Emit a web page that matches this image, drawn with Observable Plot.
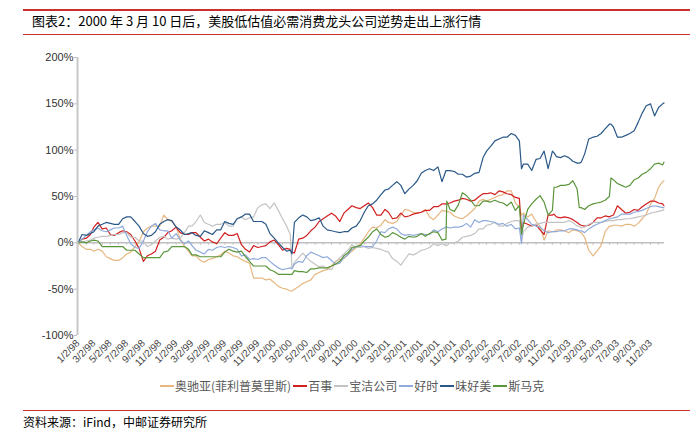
<!DOCTYPE html>
<html><head><meta charset="utf-8">
<script src="https://cdn.jsdelivr.net/npm/d3@7"></script>
<script src="https://cdn.jsdelivr.net/npm/@observablehq/plot@0.6"></script>
<style>
body{margin:0;width:697px;height:432px;position:relative;background:#fff;font-family:"Noto Sans CJK SC","Noto Sans",sans-serif;overflow:hidden}
.rule{position:absolute;left:23px;width:667px;background:#c9302c}
#title{position:absolute;left:32px;top:12px;font-size:13px;line-height:18px;color:#000;white-space:nowrap}
#chart{position:absolute;left:0;top:40px}
#legend{position:absolute;top:377px;left:160px;display:flex;align-items:center;font-size:12px;color:#595959;white-space:nowrap}
#legend .item{display:flex;align-items:center;margin-right:2px}
#legend svg{margin-right:1px}
#source{position:absolute;left:23px;top:414px;font-size:12px;line-height:16px;color:#000}
</style></head>
<body>
<div class="rule" style="top:9px;height:2px"></div>
<div id="title">图表2：2000 年 3 月 10 日后，美股低估值必需消费龙头公司逆势走出上涨行情</div>
<div class="rule" style="top:34px;height:1px"></div>
<div id="chart"></div>
<div id="legend"></div>
<div class="rule" style="top:410px;height:1px"></div>
<div id="source">资料来源：iFind，中邮证券研究所</div>
<script>
const dates = [
"1998-01-02","1998-01-17","1998-02-02","1998-02-17","1998-03-02","1998-03-17","1998-04-02","1998-04-17","1998-05-02","1998-05-17","1998-06-02","1998-06-17","1998-07-02","1998-07-17","1998-08-02","1998-08-17","1998-09-02","1998-09-17","1998-10-02","1998-10-17","1998-11-02","1998-11-17","1998-12-02","1998-12-17",
"1999-01-02","1999-01-17","1999-02-02","1999-02-17","1999-03-02","1999-03-17","1999-04-02","1999-04-17","1999-05-02","1999-05-17","1999-06-02","1999-06-17","1999-07-02","1999-07-17","1999-08-02","1999-08-17","1999-09-02","1999-09-17","1999-10-02","1999-10-17","1999-11-02","1999-11-17","1999-12-02","1999-12-17",
"2000-01-02","2000-01-17","2000-02-02","2000-02-17","2000-03-02","2000-03-08","2000-03-17","2000-04-02","2000-04-17","2000-05-02","2000-05-17","2000-06-02","2000-06-17","2000-07-02","2000-07-17","2000-08-02","2000-08-17","2000-09-02","2000-09-17","2000-10-02","2000-10-17","2000-11-02","2000-11-17","2000-12-02","2000-12-17",
"2001-01-02","2001-01-17","2001-02-02","2001-02-17","2001-03-02","2001-03-17","2001-04-02","2001-04-17","2001-05-02","2001-05-17","2001-06-02","2001-06-17","2001-07-02","2001-07-17","2001-08-02","2001-08-17","2001-09-02","2001-09-17","2001-10-02","2001-10-05","2001-10-17","2001-11-02","2001-11-17","2001-12-02","2001-12-17",
"2002-01-02","2002-01-17","2002-02-02","2002-02-17","2002-03-02","2002-03-17","2002-04-02","2002-04-17","2002-05-02","2002-05-17","2002-06-02","2002-06-17","2002-07-02","2002-07-10","2002-07-17","2002-08-02","2002-08-17","2002-09-02","2002-09-17","2002-10-02","2002-10-17","2002-11-02","2002-11-08","2002-11-17","2002-12-02","2002-12-17",
"2003-01-02","2003-01-17","2003-02-02","2003-02-10","2003-02-17","2003-03-02","2003-03-17","2003-04-02","2003-04-17","2003-05-02","2003-05-17","2003-06-02","2003-06-08","2003-06-17","2003-07-02","2003-07-17","2003-08-02","2003-08-17","2003-09-02","2003-09-17","2003-10-02","2003-10-17","2003-11-02","2003-11-17","2003-12-02","2003-12-17","2003-12-22"];

// 奥驰亚(菲利普莫里斯)
const altria = [
0,-4,-7,-7,-9,-7,-9,-15,-17,-19,-19,-16,-12,-10,-4,1,12,16,18,18,18,30,25,23,
17,4,-4,-9,-14,-14,-19,-21,-18,-17,-15,-13,-9,-11,-14,-15,-18,-20,-22,-38,-38,-38,-40,-39,
-43,-47,-49,-50,-52,-52,-50,-47,-44,-42,-40,-34,-32,-30,-29,-25,-20,-18,-17,-13,-9,-5,-1,5,12,
17,16,19,25,22,21,23,30,36,35,33,32,33,36,28,25,30,35,34,34,33,29,27,26,29,
33,37,45,47,45,47,49,51,52,56,56,43,38,30,32,28,31,23,18,3,13,12,12,14,14,13,
11,14,13,12,11,6,-8,-14,-9,-3,12,18,18,19,19,18,20,20,18,21,26,31,42,48,60,66,67];
// 百事
const pepsi = [
0,4,5,9,17,22,15,16,9,8,11,13,12,9,2,-6,-20,-14,-12,-9,3,6,11,13,
17,11,9,9,11,11,6,2,4,1,-1,5,11,8,8,10,-2,-7,-10,-3,-5,-4,-3,1,
3,-2,-8,-6,-7,-10,-11,4,5,8,13,17,23,26,29,32,29,23,32,36,40,38,37,40,43,
38,30,30,36,33,26,27,32,28,29,31,32,33,35,35,39,39,42,42,42,43,45,46,48,47,
45,46,50,53,53,54,52,56,55,53,52,49,48,13,22,20,18,20,14,9,30,30,31,28,27,28,
27,25,22,20,19,18,19,22,27,27,29,28,29,30,40,36,32,33,36,35,39,42,45,45,43,42,40];
// 宝洁公司
const pg = [
0,1,2,3,5,6,7,7,8,9,9,11,11,6,6,2,2,-4,-2,2,6,7,4,5,
4,5,11,18,18,23,30,22,20,18,20,20,22,18,18,26,28,25,27,28,38,41,42,37,
43,35,26,18,9,-28,-21,-16,-11,-16,-20,-23,-26,-25,-28,-29,-21,-16,-12,-8,-2,-5,-5,-4,-6,
-5,-6,-7,-9,-10,-17,-20,-24,-18,-12,-13,-11,-8,-7,-5,-1,-3,-1,-3,-3,0,0,2,6,7,
8,10,15,15,19,20,22,18,18,21,23,24,24,2,12,17,18,20,21,22,22,22,22,22,22,22,
24,22,18,18,16,17,20,22,22,22,23,24,24,24,25,25,26,26,27,28,29,30,32,33,34,35,36];
// 好时
const hershey = [
0,4,8,12,14,16,13,12,14,16,16,18,8,-1,-5,-6,2,12,18,21,14,13,13,5,
10,3,-1,2,-3,-8,-10,-12,-7,-8,-5,-4,-5,-4,-5,-7,-14,-13,-18,-17,-18,-16,-16,-20,
-24,-27,-29,-28,-27,-28,-23,-20,-21,-14,-10,-12,-14,-16,-15,-19,-23,-22,-16,-13,-7,-4,-3,-4,-4,
-4,2,12,11,15,17,15,10,8,9,8,9,10,9,9,14,12,15,17,17,16,17,17,18,21,
17,25,22,24,24,23,22,20,21,18,20,15,16,-1,30,25,20,18,17,13,11,12,12,12,13,13,
15,15,14,13,13,11,15,18,20,22,24,26,26,27,28,31,31,31,33,34,35,37,39,40,39,38,38];
// 味好美
const mccormick = [
0,9,8,10,12,18,20,22,21,20,20,26,28,28,23,18,10,7,8,12,20,23,25,24,
17,14,9,10,11,8,7,13,11,9,14,14,23,21,20,26,28,31,31,23,23,23,20,10,
5,0,-5,-9,-8,-12,22,27,30,28,24,25,27,18,14,13,12,11,12,12,16,18,24,33,40,
42,46,52,57,58,62,66,62,53,58,62,67,75,78,80,78,82,66,78,78,78,77,74,74,71,
72,75,76,92,99,104,110,112,114,114,118,116,110,80,85,85,78,90,91,99,80,99,97,93,92,94,
92,88,86,86,87,96,112,114,115,118,123,128,128,125,114,114,116,118,121,130,140,148,150,137,146,150,151];
// 斯马克
const smucker = [
0,1,0,2,3,2,-4,-4,-4,-4,-4,-4,-8,-8,-8,-12,-16,-16,-16,-16,-16,-10,-9,-4,
-4,-4,-4,-7,-13,-13,-15,-15,-15,-15,-15,-15,-10,-7,-9,-10,-9,-15,-20,-25,-25,-25,-25,-29,
-31,-34,-34,-34,-34,-34,-30,-31,-31,-32,-28,-28,-27,-27,-27,-25,-23,-20,-14,-11,-5,-4,-3,2,6,
12,15,9,6,7,11,9,6,4,7,6,7,10,7,10,12,11,3,4,45,36,34,41,54,51,
46,40,40,45,45,44,46,44,43,40,44,35,40,9,20,36,42,47,51,44,30,35,60,60,62,62,
63,67,58,38,38,36,40,42,43,44,46,50,70,68,64,62,60,62,68,70,74,76,80,85,86,84,87];

const seriesNames = ["奥驰亚(菲利普莫里斯)","百事","宝洁公司","好时","味好美","斯马克"];
const seriesColors = ["#E6B781","#D21F1F","#C3C3C3","#8FAADB","#2A5888","#5C963C"];
const yTicks = [-100,-50,0,50,100,150,200];
const tickLabels = ["1/2/98","3/2/98","5/2/98","7/2/98","9/2/98","11/2/98",
"1/2/99","3/2/99","5/2/99","7/2/99","9/2/99","11/2/99",
"1/2/00","3/2/00","5/2/00","7/2/00","9/2/00","11/2/00",
"1/2/01","3/2/01","5/2/01","7/2/01","9/2/01","11/2/01",
"1/2/02","3/2/02","5/2/02","7/2/02","9/2/02","11/2/02",
"1/2/03","3/2/03","5/2/03","7/2/03","9/2/03","11/2/03"];

const parseISO = d3.utcParse("%Y-%m-%d");
const parseLbl = d3.utcParse("%m/%d/%y");
const values = [altria, pepsi, pg, hershey, mccormick, smucker];
const rows = [];
seriesNames.forEach((n, i) => dates.forEach((d, j) => rows.push({date: parseISO(d), v: values[i][j], name: n})));
const tickDates = tickLabels.map(parseLbl);
const labelMap = new Map(tickDates.map((d, i) => [+d, tickLabels[i]]));
const xStart = new Date(Date.UTC(1997, 11, 31));
const xEnd = new Date(Date.UTC(2003, 11, 24));
const monthTicks = d3.utcMonth.range(new Date(Date.UTC(1998, 0, 1)), new Date(Date.UTC(2004, 0, 1))).map(d => d3.utcDay.offset(d, 1));

const chart = Plot.plot({
  width: 697, height: 335,
  marginLeft: 77, marginRight: 33, marginTop: 17, marginBottom: 40,
  style: {fontFamily: "'Liberation Sans', Arial, sans-serif", background: "white", overflow: "visible"},
  x: {type: "utc", domain: [xStart, xEnd], label: null},
  y: {domain: [-100, 200], label: null},
  color: {domain: seriesNames, range: seriesColors},
  marks: [
    Plot.ruleY([0], {stroke: "#BFBFBF", strokeWidth: 1.5}),
    Plot.ruleX(monthTicks, {x: d => d, y1: () => 0, y2: () => -2.6, stroke: "#BFBFBF", strokeWidth: 1}),
    Plot.line(rows, {x: "date", y: "v", z: "name", stroke: "name", strokeWidth: 1.2, strokeLinejoin: "round"}),
    Plot.ruleX([xStart], {stroke: "#C8C8C8", strokeWidth: 2}),
    Plot.axisY({ticks: yTicks, tickFormat: d => d + "%", tickSize: 3, tickPadding: 1, fontSize: 11, stroke: "#BFBFBF", fill: "#333", label: null}),
    Plot.axisX({ticks: tickDates, tickFormat: d => labelMap.get(+d), tickRotate: -45, tickSize: 0, tickPadding: 6, fontSize: 10, fill: "#444", label: null})
  ]
});
document.getElementById("chart").append(chart);

const legend = document.getElementById("legend");
seriesNames.forEach((n, i) => {
  const item = document.createElement("div");
  item.className = "item";
  item.innerHTML = `<svg width="14" height="10"><line x1="0" y1="5" x2="14" y2="5" stroke="${seriesColors[i]}" stroke-width="2"/></svg><span>${n}</span>`;
  legend.append(item);
});
</script>
</body></html>
